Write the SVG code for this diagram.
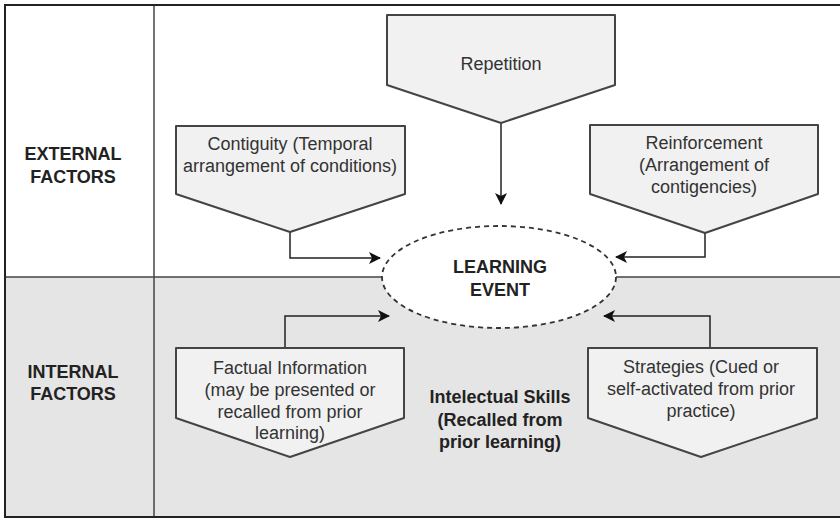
<svg xmlns="http://www.w3.org/2000/svg" width="840" height="519" viewBox="0 0 840 519">
<defs>
<marker id="ah" viewBox="0 0 12 12" refX="11" refY="6" markerWidth="12" markerHeight="12" markerUnits="userSpaceOnUse" orient="auto">
<path d="M0,0 L12,6 L0,12 L3,6 Z" fill="#111"/>
</marker>
<style>
.frame{fill:none;stroke:#222;stroke-width:2}
.div{stroke:#444;stroke-width:1.5}
.box{fill:#f1f1f1;stroke:#444;stroke-width:2;stroke-linejoin:round}
.txt{font-family:"Liberation Sans",Arial,sans-serif;font-size:18px;fill:#333;text-anchor:middle}
.bold{font-family:"Liberation Sans",Arial,sans-serif;font-size:18px;font-weight:bold;fill:#222;text-anchor:middle}
.conn{fill:none;stroke:#222;stroke-width:1.5}
</style>
</defs>
<rect x="0" y="0" width="840" height="519" fill="#ffffff"/>
<rect x="5" y="277" width="840" height="240" fill="#e5e5e5"/>
<g id="grid">
<line class="div" x1="5" y1="277" x2="840" y2="277"/>
<line class="div" x1="154" y1="5" x2="154" y2="517"/>
<rect class="frame" x="5" y="5" width="845" height="512"/>
</g>
<g id="label-external">
<text class="bold" x="73" y="160">EXTERNAL</text>
<text class="bold" x="73" y="183">FACTORS</text>
</g>
<g id="label-internal">
<text class="bold" x="73" y="378">INTERNAL</text>
<text class="bold" x="73" y="400">FACTORS</text>
</g>
<g id="connectors">
<path class="conn" d="M501,123 V204" marker-end="url(#ah)"/>
<path class="conn" d="M290,232 V258 H380" marker-end="url(#ah)"/>
<path class="conn" d="M705,233 V257 H616" marker-end="url(#ah)"/>
<path class="conn" d="M285,348 V316 H389" marker-end="url(#ah)"/>
<path class="conn" d="M710,348 V316 H604" marker-end="url(#ah)"/>
</g>
<g id="learning-event">
<ellipse cx="499" cy="277" rx="117" ry="51" fill="#ffffff" stroke="#333" stroke-width="1.8" stroke-dasharray="5,4"/>
<text class="bold" x="500" y="273">LEARNING</text>
<text class="bold" x="500" y="296">EVENT</text>
</g>
<g id="repetition">
<polygon class="box" points="387,15 615,15 615,85 501,123 387,85"/>
<text class="txt" x="501" y="70">Repetition</text>
</g>
<g id="contiguity">
<polygon class="box" points="176,126 405,126 405,194 290,232 176,194"/>
<text class="txt" x="290" y="150">Contiguity (Temporal</text>
<text class="txt" x="290" y="172">arrangement of conditions)</text>
</g>
<g id="reinforcement">
<polygon class="box" points="590,125 818,125 818,194 705,233 590,194"/>
<text class="txt" x="704" y="149">Reinforcement</text>
<text class="txt" x="704" y="171">(Arrangement of</text>
<text class="txt" x="704" y="193">contigencies)</text>
</g>
<g id="factual">
<polygon class="box" points="176,348 404,348 404,418 290,457 176,418"/>
<text class="txt" x="290" y="374">Factual Information</text>
<text class="txt" x="290" y="396">(may be presented or</text>
<text class="txt" x="290" y="418">recalled from prior</text>
<text class="txt" x="290" y="439">learning)</text>
</g>
<g id="strategies">
<polygon class="box" points="588,348 817,348 817,418 701,457 588,418"/>
<text class="txt" x="701" y="373">Strategies (Cued or</text>
<text class="txt" x="701" y="395">self-activated from prior</text>
<text class="txt" x="701" y="417">practice)</text>
</g>
<g id="intellectual">
<text class="bold" x="500" y="403">Intelectual Skills</text>
<text class="bold" x="500" y="426">(Recalled from</text>
<text class="bold" x="500" y="448">prior learning)</text>
</g>
</svg>
